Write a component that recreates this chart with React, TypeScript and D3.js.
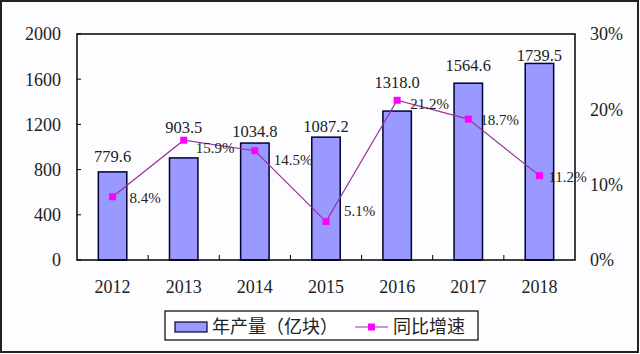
import React from "react";
import * as d3 from "d3";

const years = ["2012", "2013", "2014", "2015", "2016", "2017", "2018"];
const output = [779.6, 903.5, 1034.8, 1087.2, 1318.0, 1564.6, 1739.5];
const growth = [8.4, 15.9, 14.5, 5.1, 21.2, 18.7, 11.2];
const leftTicks = [0, 400, 800, 1200, 1600, 2000];
const rightTicks = [0, 10, 20, 30];

// manual label nudges, like in the original
const valLift = [16, 31, 12, 11, 29, 18, 8];
const pctDx = [17, 12, 19, 18, 13, 12, 9];
const pctDy = [1, 8, 9, -11, 3, 1, 1];

const W = 640;
const H = 354;
const plot = { left: 77, right: 575, top: 34, bottom: 260 };
const serif = "'Liberation Serif', 'Times New Roman', serif";
const cjk = "'Noto Sans CJK SC', sans-serif";

export default function App() {
  const x = d3
    .scaleBand()
    .domain(years)
    .range([plot.left, plot.right])
    .paddingInner(0.6)
    .paddingOuter(0.3);
  const yL = d3.scaleLinear().domain([0, 2000]).range([plot.bottom, plot.top]);
  const yR = d3.scaleLinear().domain([0, 30]).range([plot.bottom, plot.top]);
  const step = (plot.right - plot.left) / years.length;
  const cx = (d: string) => (x(d) as number) + x.bandwidth() / 2;

  const line = d3
    .line<number>()
    .x((_, i) => cx(years[i]))
    .y((d) => yR(d));

  return (
    <svg
      width={W}
      height={H}
      style={{ position: "absolute", left: 0, top: 0, background: "#fff" }}
    >
      <rect x={1} y={1} width={W - 3} height={H - 3} fill="#fdfdff" stroke="#222" strokeWidth={2} />

      {/* bars */}
      {output.map((v, i) => (
        <rect
          key={years[i]}
          x={x(years[i])}
          y={yL(v)}
          width={x.bandwidth()}
          height={plot.bottom - yL(v)}
          fill="#9999ff"
          stroke="#000033"
          strokeWidth={1.5}
        />
      ))}

      {/* plot frame */}
      <rect
        x={plot.left}
        y={plot.top}
        width={plot.right - plot.left}
        height={plot.bottom - plot.top}
        fill="none"
        stroke="#000"
        strokeWidth={1.5}
      />

      {/* left axis */}
      {leftTicks.map((t) => (
        <g key={t}>
          <line x1={plot.left} x2={plot.left + 4} y1={yL(t)} y2={yL(t)} stroke="#000" />
          <text
            x={61}
            y={yL(t)}
            dy="0.35em"
            textAnchor="end"
            fontFamily={serif}
            fontSize={18}
            fill="#222"
          >
            {t}
          </text>
        </g>
      ))}

      {/* right axis labels */}
      {rightTicks.map((t) => (
        <text
          key={t}
          x={590}
          y={yR(t)}
          dy="0.35em"
          fontFamily={serif}
          fontSize={18}
          fill="#222"
        >
          {t}%
        </text>
      ))}

      {/* x axis */}
      {years.map((d, i) => (
        <g key={d}>
          {i > 0 && (
            <line
              x1={plot.left + step * i}
              x2={plot.left + step * i}
              y1={plot.bottom}
              y2={plot.bottom - 5}
              stroke="#000"
            />
          )}
          <text
            x={cx(d)}
            y={287}
            dy="0.35em"
            textAnchor="middle"
            fontFamily={serif}
            fontSize={18}
            fill="#222"
          >
            {d}
          </text>
        </g>
      ))}

      {/* value labels */}
      {output.map((v, i) => (
        <text
          key={years[i]}
          x={cx(years[i])}
          y={yL(v) - valLift[i]}
          dy="0.35em"
          textAnchor="middle"
          fontFamily={serif}
          fontSize={16.5}
          fill="#222"
        >
          {v.toFixed(1)}
        </text>
      ))}

      {/* growth line */}
      <path d={line(growth) || ""} fill="none" stroke="#993399" strokeWidth={1.2} />
      {growth.map((g, i) => (
        <rect
          key={years[i]}
          x={cx(years[i]) - 3.5}
          y={yR(g) - 3.5}
          width={7}
          height={7}
          fill="#ff00ff"
        />
      ))}
      {growth.map((g, i) => (
        <text
          key={years[i]}
          x={cx(years[i]) + pctDx[i]}
          y={yR(g) + pctDy[i]}
          dy="0.35em"
          fontFamily={serif}
          fontSize={15}
          fill="#222"
        >
          {g.toFixed(1)}%
        </text>
      ))}

      {/* legend */}
      <rect x={165} y={311} width={313} height={29} fill="#fff" stroke="#000" strokeWidth={1.2} />
      <rect x={175} y={322} width={32} height={10} fill="#9999ff" stroke="#000033" strokeWidth={1.2} />
      <text x={212} y={327} dy="0.35em" fontFamily={cjk} fontSize={18} fill="#222">
        年产量（亿块）
      </text>
      <line x1={355} x2={388} y1={327} y2={327} stroke="#993399" strokeWidth={1.2} />
      <rect x={368} y={323.5} width={7} height={7} fill="#ff00ff" />
      <text x={393} y={327} dy="0.35em" fontFamily={cjk} fontSize={18} fill="#222">
        同比增速
      </text>
    </svg>
  );
}
